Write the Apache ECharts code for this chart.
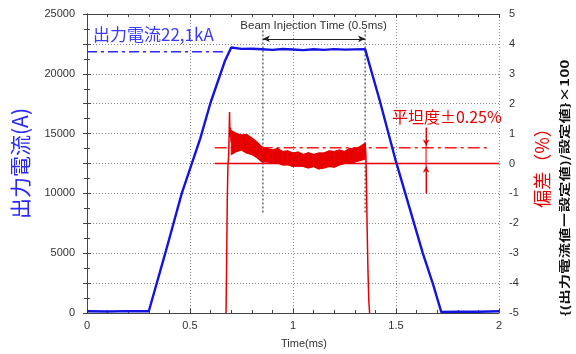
<!DOCTYPE html>
<html><head><meta charset="utf-8">
<script src="https://cdn.jsdelivr.net/npm/echarts@6/dist/echarts.min.js"></script>
<style>html,body{margin:0;padding:0;background:#fff}#c{width:576px;height:354px}</style>
</head><body><div id="c"></div>
<script>
// ---- data ----
const leftTickLabels = [0, 5000, 10000, 15000, 20000, 25000];
const rightTickLabels = [-5, -4, -3, -2, -1, 0, 1, 2, 3, 4, 5];

// output current (A) vs time (ms)
const blueTime = [0, 0.1, 0.2, 0.3, 0.38, 0.46, 0.55, 0.60, 0.67, 0.70, 0.75, 0.80, 0.85, 0.90, 0.95, 1.00, 1.05, 1.10, 1.15, 1.20, 1.25, 1.30, 1.35, 1.42, 1.50, 1.63, 1.68, 1.72, 1.80, 1.90, 2.00];
const blueCurrent = [150, 130, 160, 150, 5000, 10000, 14600, 17600, 21100, 22200, 22080, 22100, 22050, 22000, 22070, 22030, 21980, 22050, 22000, 22060, 22020, 22040, 22060, 17830, 12650, 5000, 2400, 80, 100, 110, 150];

// deviation (%) : rising edge, noisy band (upper/lower envelope), falling edge
const redRiseTime = [0.675, 0.678, 0.681, 0.684, 0.688, 0.692, 0.694, 0.697, 0.700];
const redRiseDev  = [-5, -3.2, -1.2, -0.1, 0.3, 1.72, 0.9, 1.2, 0.7];
const bandTime  = [0.700, 0.725, 0.750, 0.775, 0.800, 0.825, 0.850, 0.875, 0.900, 0.925, 0.950, 0.975, 1.000, 1.025, 1.050, 1.075, 1.100, 1.125, 1.150, 1.175, 1.200, 1.225, 1.250, 1.275, 1.300, 1.325, 1.350];
const bandUpper = [1.10, 1.00, 0.95, 0.97, 0.85, 0.72, 0.55, 0.50, 0.45, 0.50, 0.40, 0.42, 0.35, 0.38, 0.30, 0.36, 0.30, 0.35, 0.35, 0.42, 0.40, 0.45, 0.40, 0.50, 0.50, 0.56, 0.68];
const bandLower = [0.30, 0.40, 0.45, 0.35, 0.30, 0.20, 0.05, 0.06, 0.00, 0.02, -0.05, -0.04, -0.10, -0.08, -0.10, -0.15, -0.10, -0.18, -0.15, -0.10, -0.12, -0.05, 0.00, 0.00, 0.05, 0.10, 0.15];
const redFallTime = [1.350, 1.354, 1.357, 1.360, 1.364, 1.368, 1.372];
const redFallDev  = [0.70, 0.30, -0.8, -2.2, -3.6, -4.6, -5];

// reference lines / annotations (data coordinates)
const setCurrentLine = [[0, 21850], [0.66, 21850]];
const zeroDevLine = [[0.62, 0], [2.0, 0]];
const flatDevLine = [[0.62, 0.53], [1.96, 0.53]];
const beamStart = 0.854, beamEnd = 1.35, beamArrowY = 4.17, beamTop = 4.45, beamBottom = -1.7;
const flatArrowX = 1.646, flatArrowTop = 1.2, flatArrowBottom = -1.0, flatTipHigh = 0.6, flatTipLow = -0.1;
const labelCurrent = {text: '出力電流22,1kA', x: 0.029, y: 23300};
const labelBeam = {text: 'Beam Injection Time (0.5ms)', x: 1.10, y: 4.62};
const labelFlat = {text: '平坦度±0.25%', x: 1.48, y: 1.56};

// ---- chart ----
const RED = '#e60000', BLUE = '#1414e0', AX = '#444';
const CJK = '"Noto Sans CJK JP"', LAT = '"Liberation Sans", Arial';
const chart = echarts.init(document.getElementById('c'), null, {renderer: 'canvas'});
const zip = (a, b) => a.map((v, i) => [v, b[i]]);
const bandRows = bandTime.map((t, i) => [t, bandUpper[i], bandLower[i]]);

const gridDot = {show: true, lineStyle: {type: [1, 2], color: '#888', width: 1}};
const xCommon = {
  type: 'value', min: 0, max: 2, interval: 0.5,
  axisLine: {show: true, onZero: false, lineStyle: {color: AX, width: 1}},
  axisTick: {show: true, inside: true, length: 4, lineStyle: {color: AX}},
  minorTick: {show: true, splitNumber: 5, length: 3, lineStyle: {color: AX}},
};
const plain = {show: false};
// straight reference line drawn through the axis scales, explicit stroke and dash
const refLine = (data, yIdx, color, width, dash, z) => ({
  type: 'custom', xAxisIndex: 0, yAxisIndex: yIdx, data: data, silent: true, z: z,
  encode: {x: 0, y: 1},
  renderItem: function (params, api) {
    if (params.dataIndex !== 0) return null;
    const pts = data.map(p => api.coord(p));
    return {type: 'polyline', shape: {points: pts},
      style: {stroke: color, lineWidth: width, lineDash: dash, fill: null}};
  }
});
const textMark = (lbl, align, family, size, color) => ({
  coord: [lbl.x, lbl.y], value: lbl.text,
  label: {show: true, position: 'inside', align: align, verticalAlign: 'middle', formatter: lbl.text,
    fontFamily: family, fontSize: size, color: color}
});

chart.setOption({
  animation: false,
  grid: {left: 87, right: 77, top: 14, bottom: 39},
  xAxis: [
    Object.assign({}, xCommon, {
      position: 'bottom', splitLine: gridDot,
      axisLabel: {fontFamily: LAT, fontSize: 11, color: '#333', margin: 7},
      name: 'Time(ms)', nameLocation: 'middle', nameGap: 25,
      nameTextStyle: {fontFamily: LAT, fontSize: 11, color: '#333', padding: [0, 0, 0, 22]}
    }),
    Object.assign({}, xCommon, {position: 'top', splitLine: plain, axisLabel: plain})
  ],
  yAxis: [
    {
      type: 'value', position: 'left', min: 0, max: 25000, interval: 2500,
      axisLine: {show: true, lineStyle: {color: AX}},
      axisTick: {show: true, inside: true, length: 4, lineStyle: {color: AX}},
      minorTick: {show: true, splitNumber: 2, length: 3, lineStyle: {color: AX}},
      splitLine: gridDot,
      axisLabel: {fontFamily: LAT, fontSize: 11, color: '#333', margin: 12,
        formatter: v => leftTickLabels.indexOf(v) >= 0 ? String(v) : ''},
      name: '出力電流(A)', nameLocation: 'middle', nameGap: 56,
      nameTextStyle: {fontFamily: CJK, fontSize: 21, color: '#2a2aff'}
    },
    {
      type: 'value', position: 'right', min: -5, max: 5, interval: 1,
      axisLine: {show: true, lineStyle: {color: AX}},
      axisTick: {show: true, inside: true, length: 4, lineStyle: {color: AX}},
      minorTick: {show: true, splitNumber: 2, length: 3, lineStyle: {color: AX}},
      splitLine: plain,
      axisLabel: {fontFamily: LAT, fontSize: 11, color: '#333', margin: 10,
        formatter: v => rightTickLabels.indexOf(v) >= 0 ? String(v) : ''},
      name: '偏差（%）', nameLocation: 'middle', nameGap: 34,
      nameTextStyle: {fontFamily: CJK, fontSize: 18, color: RED}
    }
  ],
  graphic: [{
    type: 'text', x: 565, y: 188, rotation: Math.PI / 2, scaleX: 1.4,
    style: {text: '{(出力電流値ー設定値)/設定値}×100', font: 'bold 11px ' + CJK, fill: '#111',
      align: 'center', verticalAlign: 'middle', textAlign: 'center', textVerticalAlign: 'middle'}
  }],
  series: [
    refLine(zeroDevLine, 1, RED, 1.5, null, 3),
    refLine(flatDevLine, 1, '#ff1a1a', 1.5, [12, 4, 3, 4], 3),
    refLine([[beamStart, beamTop], [beamStart, beamBottom]], 1, '#222', 1, [2, 2], 2),
    refLine([[beamEnd, beamTop], [beamEnd, beamBottom]], 1, '#222', 1, [2, 2], 2),
    refLine([[flatArrowX, flatArrowTop], [flatArrowX, flatArrowBottom]], 1, RED, 1, null, 3),
    refLine(setCurrentLine, 0, '#2a2aff', 1.5, [10, 4, 3, 4], 4),
    { // arrowheads + text annotations (deviation axis)
      type: 'line', xAxisIndex: 0, yAxisIndex: 1, data: [], symbol: 'none', silent: true,
      markLine: {
        silent: true, animation: false, label: {show: false}, symbol: 'none',
        data: [
          [{coord: [beamStart, beamArrowY], symbol: 'arrow', symbolSize: [5, 7], lineStyle: {color: '#222', width: 1, type: 'solid'}},
           {coord: [beamEnd, beamArrowY], symbol: 'arrow', symbolSize: [5, 7]}],
          [{coord: [flatArrowX, flatArrowTop], symbol: 'none', lineStyle: {color: RED, width: 1, type: 'solid'}},
           {coord: [flatArrowX, flatTipHigh], symbol: 'arrow', symbolSize: [5, 6]}],
          [{coord: [flatArrowX, flatArrowBottom], symbol: 'none', lineStyle: {color: RED, width: 1, type: 'solid'}},
           {coord: [flatArrowX, flatTipLow], symbol: 'arrow', symbolSize: [5, 6]}]
        ]
      },
      markPoint: {
        silent: true, symbol: 'circle', symbolSize: 0,
        data: [
          textMark(labelBeam, 'center', LAT, 11.5, '#333'),
          textMark(labelFlat, 'left', CJK, 16, RED)
        ]
      }
    },
    { // text annotation (current axis)
      type: 'line', xAxisIndex: 0, yAxisIndex: 0, data: [], symbol: 'none', silent: true,
      markPoint: {silent: true, symbol: 'circle', symbolSize: 0,
        data: [textMark(labelCurrent, 'left', CJK, 17, '#3a3aff')]}
    },
    {type: 'line', xAxisIndex: 0, yAxisIndex: 1, data: zip(redRiseTime, redRiseDev), symbol: 'none',
     lineStyle: {color: RED, width: 1.5}, z: 3},
    { // noisy deviation band, filled between upper and lower envelopes
      type: 'custom', xAxisIndex: 0, yAxisIndex: 1, data: bandRows, z: 3, silent: true,
      encode: {x: 0, y: [1, 2]},
      renderItem: function (params, api) {
        const i = params.dataIndex;
        if (i >= bandRows.length - 1) return null;
        const a = bandRows[i], b = bandRows[i + 1];
        const pts = [api.coord([a[0], a[1]]), api.coord([b[0], b[1]]), api.coord([b[0], b[2]]), api.coord([a[0], a[2]])];
        return {type: 'polygon', shape: {points: pts}, style: {fill: RED, stroke: RED, lineWidth: 0.8}};
      }
    },
    {type: 'line', xAxisIndex: 0, yAxisIndex: 1, data: zip(bandTime, bandUpper), symbol: 'none',
     lineStyle: {color: RED, width: 1.2}, z: 3},
    {type: 'line', xAxisIndex: 0, yAxisIndex: 1, data: zip(bandTime, bandLower), symbol: 'none',
     lineStyle: {color: RED, width: 1.2}, z: 3},
    {type: 'line', xAxisIndex: 0, yAxisIndex: 1, data: zip(redFallTime, redFallDev), symbol: 'none',
     lineStyle: {color: RED, width: 1.5}, z: 3},
    {type: 'line', xAxisIndex: 0, yAxisIndex: 0, data: zip(blueTime, blueCurrent), symbol: 'none',
     lineStyle: {color: BLUE, width: 2.4}, z: 5}
  ]
});
</script></body></html>
